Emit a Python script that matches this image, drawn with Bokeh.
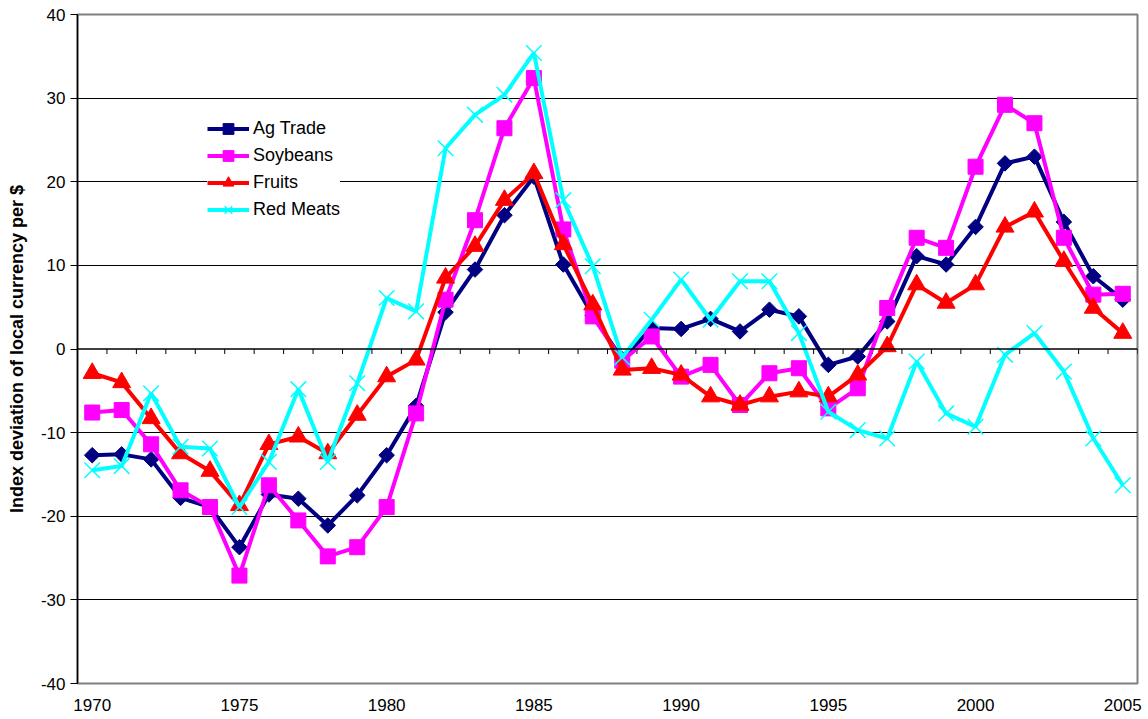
import math
from bokeh.plotting import figure
from bokeh.models import Range1d, FixedTicker, Span, Legend, LegendItem
from bokeh.embed import file_html
from bokeh.resources import INLINE

years = list(range(1970, 2006))
ag_trade = [-12.7, -12.6, -13.2, -17.8, -18.9, -23.7, -17.4, -17.9, -21.1, -17.5,
            -12.7, -6.8, 4.4, 9.5, 16.0, 20.6, 10.1, 4.0, -1.2, 2.5,
            2.4, 3.6, 2.1, 4.7, 3.9, -1.9, -0.9, 3.3, 11.1, 10.1,
            14.6, 22.2, 23.0, 15.2, 8.7, 5.9]
soybeans = [-7.6, -7.3, -11.4, -16.9, -18.9, -27.1, -16.3, -20.5, -24.8, -23.7,
            -18.9, -7.7, 5.9, 15.4, 26.4, 32.4, 14.3, 3.9, -1.4, 1.5,
            -3.3, -1.9, -6.7, -2.9, -2.3, -7.1, -4.7, 4.9, 13.3, 12.1,
            21.8, 29.2, 27.0, 13.3, 6.5, 6.6]
fruits = [-2.9, -4.0, -8.3, -12.5, -14.6, -18.7, -11.4, -10.5, -12.5, -7.9,
          -3.3, -1.3, 8.5, 12.3, 17.8, 21.0, 12.5, 5.3, -2.5, -2.3,
          -3.1, -5.7, -6.7, -5.7, -5.1, -5.7, -3.1, 0.3, 7.7, 5.5,
          7.7, 14.6, 16.4, 10.5, 4.9, 1.9]
red_meats = [-14.5, -14.0, -5.3, -11.7, -11.9, -18.9, -13.5, -4.8, -13.5, -4.1,
             6.1, 4.5, 24.0, 28.0, 30.4, 35.4, 17.8, 9.9, -1.0, 3.5,
             8.3, 3.5, 8.1, 8.1, 1.9, -7.5, -9.7, -10.7, -1.5, -7.7,
             -9.3, -0.7, 1.9, -2.7, -10.7, -16.3]
series_names = ["Ag Trade", "Soybeans", "Fruits", "Red Meats"]
y_ticks = [-40, -30, -20, -10, 0, 10, 20, 30, 40]
x_label_years = [1970, 1975, 1980, 1985, 1990, 1995, 2000, 2005]

FONT = "Liberation Sans"

p = figure(width=1148, height=719, output_backend="svg", toolbar_location=None,
           x_range=Range1d(years[0] - 0.5, years[-1] + 0.5),
           y_range=Range1d(y_ticks[0], y_ticks[-1]),
           min_border_left=77, min_border_top=14, min_border_right=11, min_border_bottom=36)
p.background_fill_color = "white"
p.border_fill_color = "white"
p.outline_line_color = "#808080"
p.outline_line_width = 2

# grid
p.xgrid.visible = False
p.ygrid.ticker = FixedTicker(ticks=[t for t in y_ticks if t not in (y_ticks[0], y_ticks[-1], 0)])
p.ygrid.grid_line_color = "#000000"
p.ygrid.grid_line_width = 1

# y axis
p.yaxis.ticker = FixedTicker(ticks=y_ticks)
p.yaxis.major_label_overrides = {t: str(t) for t in y_ticks}
p.yaxis.major_label_text_font = FONT
p.yaxis.major_label_text_font_size = "17px"
p.yaxis.major_label_text_color = "#000000"
p.yaxis.major_tick_out = 7
p.yaxis.major_tick_in = 0
p.yaxis.minor_tick_line_color = None
p.yaxis.major_tick_line_color = "#000000"
p.yaxis.axis_line_color = "#000000"
p.yaxis.axis_line_width = 1.5
p.yaxis.major_label_standoff = 5
p.yaxis.axis_label = "Index deviation of local currency per $"
p.yaxis.axis_label_text_font = FONT
p.yaxis.axis_label_text_font_size = "18px"
p.yaxis.axis_label_text_font_style = "bold"
p.yaxis.axis_label_text_color = "#000000"
p.yaxis.axis_label_standoff = 11

# x axis (labels only at bottom)
p.xaxis.ticker = FixedTicker(ticks=x_label_years)
p.xaxis.major_label_overrides = {t: str(t) for t in x_label_years}
p.xaxis.major_label_text_font = FONT
p.xaxis.major_label_text_font_size = "17px"
p.xaxis.major_label_text_color = "#000000"
p.xaxis.major_tick_line_color = None
p.xaxis.minor_tick_line_color = None
p.xaxis.axis_line_color = None
p.xaxis.major_tick_out = 0
p.xaxis.major_tick_in = 0
p.xaxis.major_label_standoff = 15

# zero line with category-boundary ticks
p.add_layout(Span(location=0, dimension="width", line_color="#000000", line_width=1.5))
bounds = [y + 0.5 for y in years]
p.segment(x0=bounds, y0=[0] * len(bounds), x1=bounds, y1=[-0.6] * len(bounds),
          line_color="#000000", line_width=1)

colors = ["#000080", "#FF00FF", "#FF0000", "#00FFFF"]
data = [ag_trade, soybeans, fruits, red_meats]
items = []
for i, (name, vals, col) in enumerate(zip(series_names, data, colors)):
    ln = p.line(years, vals, line_color=col, line_width=4)
    if i == 0:
        sc = p.scatter(years, vals, marker="square", angle=math.pi / 4, size=11,
                       fill_color=col, line_color=col)
    elif i == 1:
        sc = p.scatter(years, vals, marker="square", size=15,
                       fill_color=col, line_color=col)
    elif i == 2:
        sc = p.scatter(years, vals, marker="triangle", size=18,
                       fill_color=col, line_color=col)
    else:
        sc = p.scatter(years, vals, marker="x", size=22,
                       line_color=col, line_width=1.5)
    items.append(LegendItem(label=name, renderers=[ln, sc]))

legend = Legend(items=items, location=(130, 460))
legend.background_fill_color = "white"
legend.background_fill_alpha = 1
legend.border_line_color = None
legend.padding = 4
legend.margin = 0
legend.spacing = 0
legend.glyph_width = 42
legend.glyph_height = 27
legend.label_height = 20
legend.label_standoff = 4
legend.label_text_font = FONT
legend.label_text_font_size = "18px"
legend.label_text_color = "#000000"
p.add_layout(legend)

open("out.html", "w").write(file_html(p, INLINE))
